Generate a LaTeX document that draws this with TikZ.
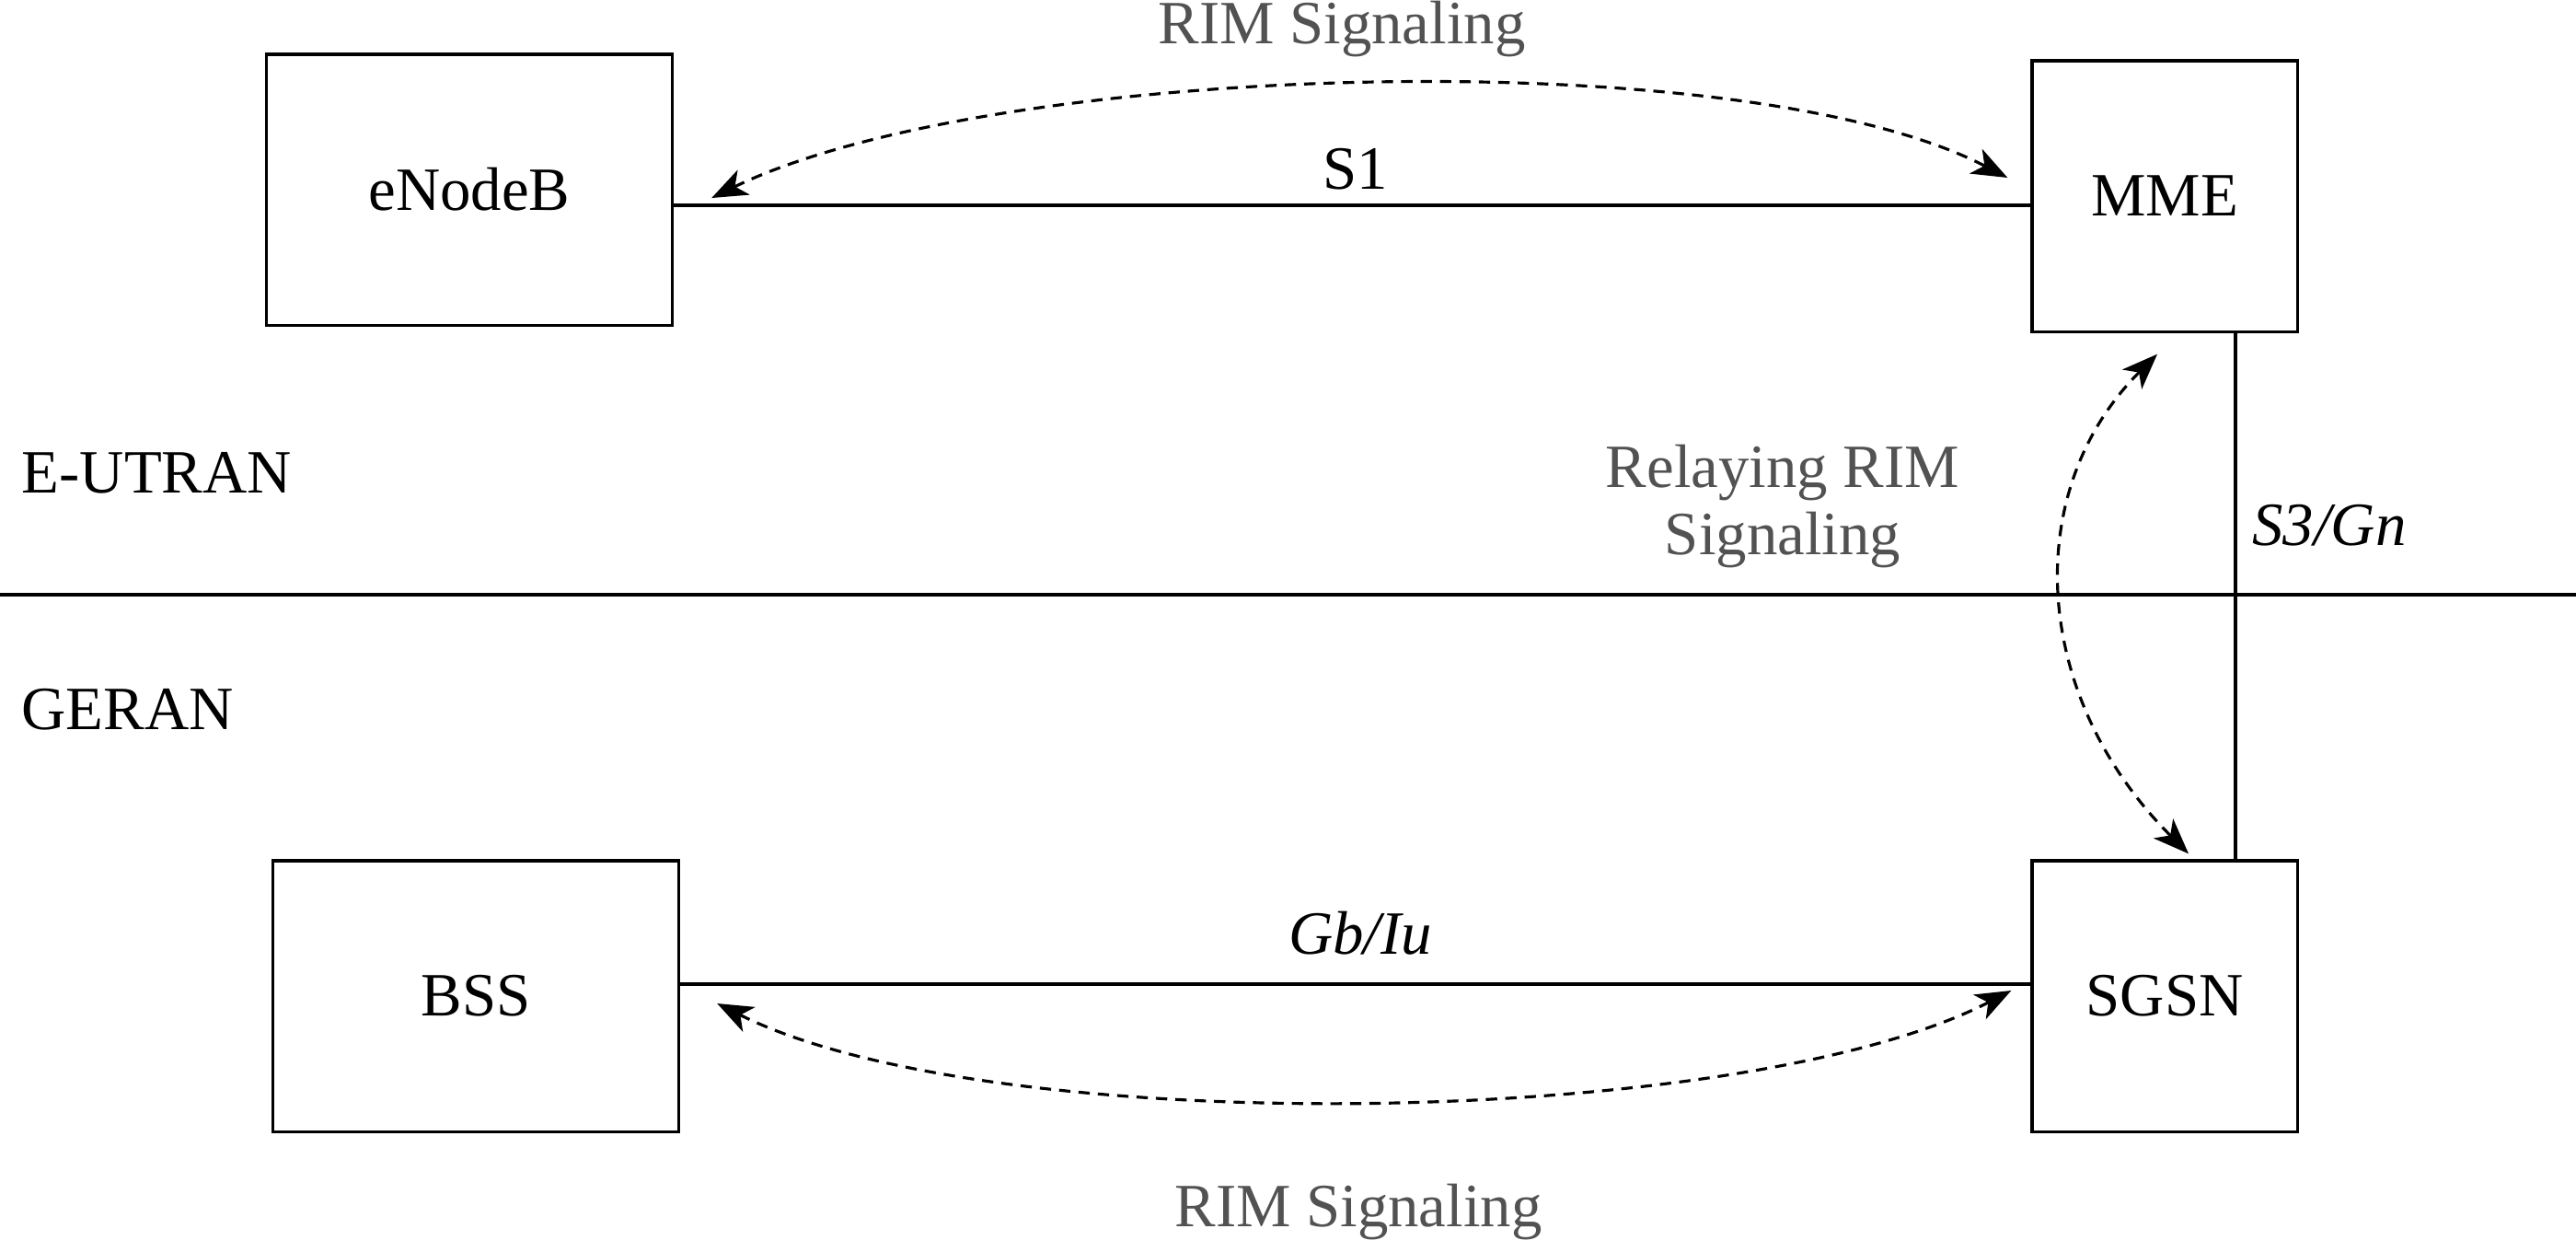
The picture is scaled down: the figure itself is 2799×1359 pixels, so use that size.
\documentclass[tikz,border=0pt]{standalone}
\usepackage{fontspec}
\setmainfont{Liberation Serif}
\usetikzlibrary{arrows.meta}

\begin{document}
\begin{tikzpicture}[x=0.01cm,y=-0.01cm,
  every node/.style={font=\fontsize{19}{21}\selectfont,inner sep=0pt},
  netbox/.style={draw,line width=0.9pt,minimum height=2.94cm},
  rim/.style={line width=0.9pt,dash pattern=on 3.5pt off 2.5pt,{Stealth[length=11pt,width=8.5pt,inset=3pt]}-{Stealth[length=11pt,width=8.5pt,inset=3pt]}},
  grey/.style={text=black!68}]
  \useasboundingbox (0,0) rectangle (2799,1359);
  \path (510,206) node[netbox,minimum width=4.41cm] (enb) {eNodeB}
  (2352,213) node[netbox,minimum width=2.88cm] (mme) {MME}
  (517,1082) node[netbox,minimum width=4.41cm] (bss) {BSS}
  (2352,1082) node[netbox,minimum width=2.88cm] (sgsn) {SGSN};
  \coordinate (s1) at (0,223);
  \coordinate (gb) at (0,1069);
  \coordinate (s3) at (2429,0);
  \draw[line width=0.9pt] (enb.east |- s1) -- (mme.west |- s1);
  \draw[line width=0.9pt] (bss.east |- gb) -- (sgsn.west |- gb);
  \draw[line width=0.9pt] (mme.south -| s3) -- (sgsn.north -| s3);
  \draw[line width=0.9pt] (0,646) -- (2799,646);
  % signalling paths
  \draw[rim] ([xshift=0.41cm,yshift=-0.09cm]enb.east) .. controls +(304,-148) and +(-290,-150) .. ([xshift=-0.25cm,yshift=0.2cm]mme.west);
  \draw[rim] ([xshift=0.4cm,yshift=-0.08cm]bss.east) .. controls +(300,150) and +(-290,150) .. ([xshift=-0.21cm,yshift=0.06cm]sgsn.west);
  \draw[rim] ([xshift=-0.08cm,yshift=-0.23cm]mme.south) .. controls +(-150,150) and +(-170,-170) .. ([xshift=0.26cm,yshift=0.06cm]sgsn.north);
  % labels
  \path (23,514) node[anchor=west] (eutran) {E-UTRAN}
  (23,771) node[anchor=west] (geran) {GERAN}
  (1458,32) node[grey] (rimtop) {RIM Signaling}
  (1473,184) node (s1lbl) {S1}
  (1937,550) node[grey,align=center] (relay) {Relaying RIM\\Signaling}
  (2531,571) node (s3lbl) {\textit{S3/Gn}}
  (1478,1014) node (gblbl) {\textit{Gb/Iu}}
  (1476,1316) node[grey] (rimbot) {RIM Signaling};
\end{tikzpicture}
\end{document}
